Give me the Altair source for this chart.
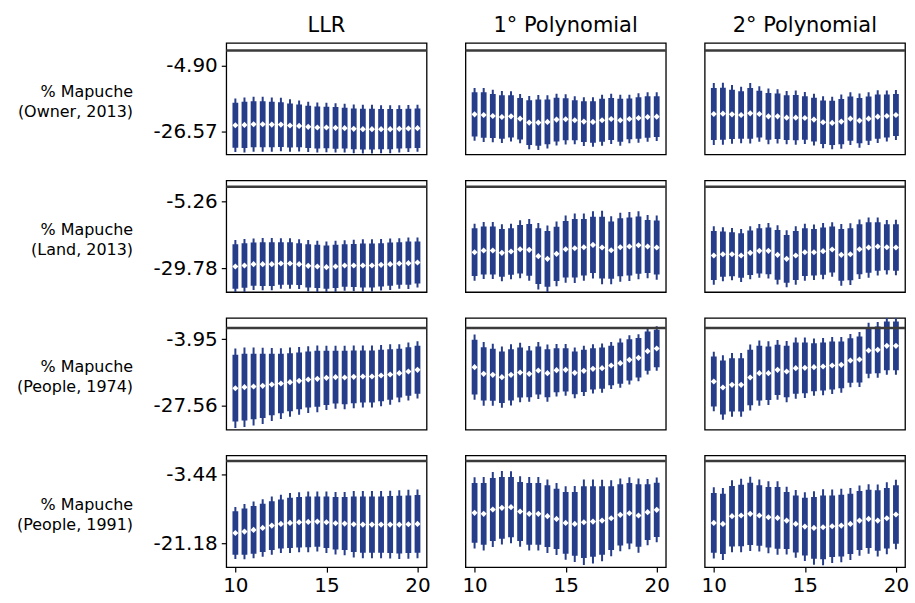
import altair as alt
import pandas as pd

FONT = "DejaVu Sans"
BLUE = "#263d8a"

bandwidth = [10.0, 10.5, 11.0, 11.5, 12.0, 12.5, 13.0, 13.5, 14.0, 14.5, 15.0,
             15.5, 16.0, 16.5, 17.0, 17.5, 18.0, 18.5, 19.0, 19.5, 20.0]

col_titles = ["LLR", "1° Polynomial", "2° Polynomial"]
row_labels = [["% Mapuche", "(Owner, 2013)"], ["% Mapuche", "(Land, 2013)"],
              ["% Mapuche", "(People, 1974)"], ["% Mapuche", "(People, 1991)"]]
row_ticks = [[-4.90, -26.57], [-5.26, -29.78], [-3.95, -27.56], [-3.44, -21.18]]
row_domains = [[-34.0, 2.54], [-38.5, 2.28], [-35.96, 3.57], [-27.4, 1.42]]

# Row 1: % Mapuche (Owner, 2013)
est_owner_llr = [-24.42, -24.32, -24.10, -24.10, -24.21, -24.21, -24.53, -24.64, -24.96, -25.18, -25.18,
                 -25.29, -25.39, -25.61, -25.72, -25.72, -25.72, -25.72, -25.61, -25.50, -25.39]
se_owner_llr = [4.46, 4.59, 4.59, 4.59, 4.52, 4.46, 4.39, 4.26, 4.19, 4.19, 4.13,
                4.13, 4.06, 4.06, 4.06, 4.06, 4.00, 4.00, 3.93, 3.93, 3.93]
est_owner_p1 = [-20.87, -21.08, -21.40, -21.73, -21.51, -22.27, -23.56, -23.56, -23.34, -22.59, -22.48,
                -22.80, -23.24, -23.34, -22.80, -22.37, -22.80, -22.37, -22.05, -21.73, -21.62]
se_owner_p1 = [4.39, 4.52, 4.39, 4.33, 4.19, 4.13, 4.46, 4.59, 4.46, 4.33, 4.19,
               4.00, 4.06, 4.13, 4.26, 4.19, 4.26, 4.06, 4.13, 4.13, 4.06]
est_owner_p2 = [-20.76, -20.65, -20.87, -21.08, -20.54, -20.76, -21.51, -21.51, -21.94, -21.94, -22.05,
                -22.59, -23.45, -23.67, -23.24, -22.27, -22.91, -22.27, -21.62, -21.40, -21.08]
se_owner_p2 = [5.18, 5.18, 4.91, 4.72, 5.05, 4.65, 4.65, 4.52, 4.46, 4.52, 4.33,
               4.33, 4.33, 4.39, 4.52, 4.39, 4.52, 4.39, 4.39, 4.26, 4.19]

# Row 2: % Mapuche (Land, 2013)
est_land_llr = [-29.17, -28.81, -28.32, -28.32, -28.32, -28.08, -28.08, -28.32, -28.93, -29.17, -29.41,
                -29.17, -28.81, -28.81, -28.81, -28.81, -28.56, -28.32, -28.08, -27.96, -27.71]
se_land_llr = [4.94, 4.94, 4.80, 4.87, 4.87, 4.72, 4.72, 4.65, 4.80, 4.80, 4.80,
               4.80, 4.72, 4.80, 4.87, 4.87, 4.80, 4.80, 4.72, 4.80, 4.65]
est_land_p1 = [-23.95, -23.34, -23.34, -24.19, -23.70, -22.86, -23.10, -25.40, -26.38, -24.56, -22.86,
               -22.49, -22.13, -21.28, -22.25, -23.22, -22.13, -21.88, -21.40, -21.88, -22.25]
se_land_p1 = [5.31, 5.31, 5.31, 5.31, 5.17, 5.39, 5.76, 6.20, 6.20, 6.05, 6.27,
              6.49, 6.27, 6.27, 6.86, 6.35, 6.42, 6.42, 6.35, 5.90, 5.98]
est_land_p2 = [-25.16, -24.68, -24.68, -25.16, -24.19, -23.46, -23.46, -24.92, -26.38, -25.16, -23.95,
               -23.95, -23.58, -22.98, -24.92, -24.68, -22.86, -22.25, -21.88, -22.13, -22.25]
se_land_p2 = [5.46, 5.02, 4.87, 4.94, 4.94, 5.02, 5.17, 5.54, 5.31, 5.46, 5.31,
              5.17, 5.24, 5.09, 5.76, 5.76, 5.54, 5.61, 5.39, 5.09, 5.17]

# Row 3: % Mapuche (People, 1974)
est_p74_llr = [-21.31, -20.95, -20.72, -20.48, -20.01, -19.65, -19.18, -18.71, -18.24, -18.00, -17.64,
               -17.41, -17.53, -17.29, -17.17, -17.17, -16.82, -16.46, -15.99, -15.40, -14.81]
se_p74_llr = [7.18, 7.18, 7.04, 6.90, 6.61, 6.39, 6.25, 6.11, 6.03, 6.03, 5.82,
              5.68, 5.75, 5.68, 5.60, 5.60, 5.53, 5.46, 5.24, 5.24, 5.17]
est_p74_p1 = [-13.86, -16.23, -16.58, -17.41, -16.58, -15.75, -16.23, -15.04, -15.99, -14.93, -14.81,
              -15.87, -15.16, -14.45, -14.22, -13.27, -12.45, -11.26, -10.55, -8.19, -7.24]
se_p74_p1 = [5.89, 5.75, 5.60, 5.53, 5.53, 5.39, 5.03, 5.17, 5.17, 4.74, 4.67,
             4.60, 4.53, 4.45, 4.45, 4.24, 4.45, 4.45, 4.24, 4.24, 4.02]
est_p74_p2 = [-18.94, -21.07, -20.13, -20.13, -17.53, -15.99, -15.99, -14.81, -15.40, -14.22, -14.10,
              -13.86, -13.63, -13.27, -13.04, -11.50, -11.14, -7.95, -7.72, -6.30, -6.30]
se_p74_p2 = [5.39, 5.82, 5.75, 5.75, 5.96, 5.89, 5.75, 5.39, 5.53, 5.53, 5.46,
             5.17, 5.17, 5.17, 5.03, 4.81, 4.96, 5.03, 5.03, 5.24, 5.24]

# Row 4: % Mapuche (People, 1991)
est_p91_llr = [-18.58, -18.23, -17.80, -17.28, -16.68, -16.25, -15.99, -15.81, -15.72, -15.64, -15.81,
               -16.07, -16.16, -16.33, -16.42, -16.42, -16.42, -16.42, -16.42, -16.33, -16.25]
se_p91_llr = [3.42, 3.63, 3.74, 3.79, 3.84, 3.84, 3.95, 3.95, 4.00, 3.95, 4.05,
              4.11, 4.16, 4.37, 4.42, 4.42, 4.42, 4.47, 4.53, 4.53, 4.53]
est_p91_p1 = [-13.39, -13.65, -12.52, -12.09, -11.92, -13.04, -13.65, -13.65, -14.25, -14.95, -15.99,
              -16.25, -15.81, -15.64, -15.38, -14.77, -13.91, -13.48, -14.08, -13.21, -12.61]
se_p91_p1 = [4.68, 4.84, 4.95, 4.84, 4.74, 4.63, 4.84, 4.84, 4.84, 4.74, 4.84,
             5.00, 5.63, 5.53, 5.37, 5.00, 4.79, 4.74, 4.89, 4.37, 4.26]
est_p91_p2 = [-15.98, -16.24, -14.25, -14.08, -13.65, -14.08, -14.51, -14.69, -15.38, -16.24, -16.94,
              -17.28, -17.11, -16.85, -16.68, -16.24, -15.38, -14.95, -15.38, -14.77, -13.82]
se_p91_p2 = [4.68, 4.74, 4.74, 4.84, 4.89, 4.74, 4.74, 4.84, 4.47, 4.47, 4.53,
             4.84, 5.00, 4.84, 4.84, 4.74, 4.63, 4.58, 4.74, 4.74, 4.58]

grid = [
    [(est_owner_llr, se_owner_llr), (est_owner_p1, se_owner_p1), (est_owner_p2, se_owner_p2)],
    [(est_land_llr, se_land_llr), (est_land_p1, se_land_p1), (est_land_p2, se_land_p2)],
    [(est_p74_llr, se_p74_llr), (est_p74_p1, se_p74_p1), (est_p74_p2, se_p74_p2)],
    [(est_p91_llr, se_p91_llr), (est_p91_p1, se_p91_p1), (est_p91_p2, se_p91_p2)],
]

Z90, Z95 = 1.645, 1.96
PW, PH = 201, 112

Y_LABEL = "datum.value < 0 ? '-' + format(-datum.value, '.2f') : format(datum.value, '.2f')"


def panel(r, c, est, se):
    df = pd.DataFrame({"bw": bandwidth, "est": est, "se": se})
    df["lo90"] = df.est - Z90 * df.se
    df["hi90"] = df.est + Z90 * df.se
    df["lo95"] = df.est - Z95 * df.se
    df["hi95"] = df.est + Z95 * df.se

    xscale = alt.Scale(domain=[9.5, 20.5], nice=False, zero=False)
    yscale = alt.Scale(domain=row_domains[r], nice=False, zero=False)

    if r == 3:
        xaxis = alt.Axis(values=[10, 15, 20], format="d", title=None, grid=False, domain=False,
                         tickColor="black", tickSize=5, tickWidth=1.2, labelFontSize=20,
                         labelColor="black", labelPadding=3, labelFont=FONT)
    else:
        xaxis = None
    if c == 0:
        yaxis = alt.Axis(values=row_ticks[r], labelExpr=Y_LABEL, grid=False, domain=False,
                         tickColor="black", tickSize=5, tickWidth=1.2, labelFontSize=20,
                         labelColor="black", labelPadding=4, labelFont=FONT,
                         title=row_labels[r], titleAngle=0, titleAlign="right",
                         titleBaseline="middle", titleX=-94, titleY=49,
                         titleFontSize=16, titleFontWeight="normal", titleFont=FONT,
                         titleColor="black", titleLineHeight=20)
    else:
        yaxis = None

    base = alt.Chart(df)
    thin = base.mark_rule(color=BLUE, strokeWidth=2, clip=True).encode(
        x=alt.X("bw:Q", scale=xscale, axis=xaxis),
        y=alt.Y("lo95:Q", scale=yscale, axis=yaxis),
        y2="hi95:Q",
    )
    thick = base.mark_rule(color=BLUE, strokeWidth=5.8, clip=True).encode(
        x=alt.X("bw:Q", scale=xscale), y=alt.Y("lo90:Q", scale=yscale), y2="hi90:Q"
    )
    pts = base.mark_point(shape="diamond", filled=True, color="white", size=38,
                          opacity=1, clip=True).encode(
        x=alt.X("bw:Q", scale=xscale), y=alt.Y("est:Q", scale=yscale)
    )
    zero = alt.Chart(pd.DataFrame({"z": [0.0]})).mark_rule(
        color="#3a3a3a", strokeWidth=2.5
    ).encode(y=alt.Y("z:Q", scale=yscale))

    props = dict(width=PW, height=PH)
    if r == 0:
        props["title"] = alt.TitleParams(col_titles[c], fontSize=21, font=FONT,
                                         fontWeight="normal", color="black", offset=7)
    return alt.layer(thin, thick, pts, zero).properties(**props)


panels = [panel(r, c, *grid[r][c]) for r in range(4) for c in range(3)]

chart = alt.concat(*panels, columns=3, spacing={"row": 26, "column": 39},
                   bounds="flush", align="each").properties(
    padding={"left": 15, "top": 13, "right": 5, "bottom": 5}
).configure(font=FONT).configure_view(stroke="black", strokeWidth=1.3)

chart.save("out.html", embed_options={"renderer": "svg", "actions": False})
